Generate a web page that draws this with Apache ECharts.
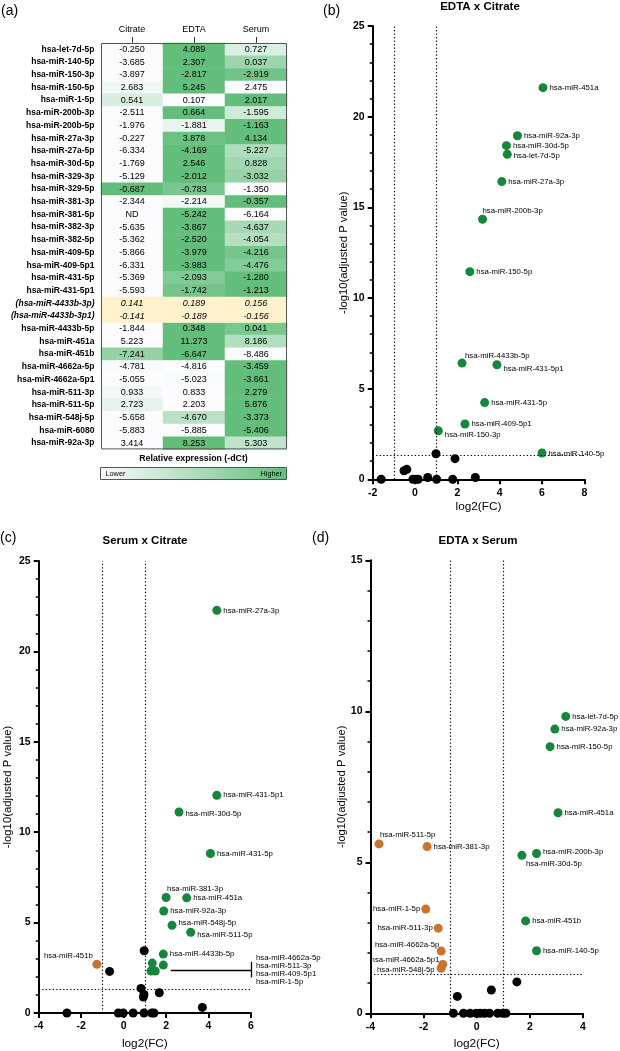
<!DOCTYPE html>
<html>
<head>
<meta charset="utf-8">
<script src="https://cdn.jsdelivr.net/npm/echarts@6/dist/echarts.min.js"></script>
<style>
html,body{margin:0;padding:0;background:#fff;}
#main{width:620px;height:1051px;}
</style>
</head>
<body>
<div id="main"></div>
<script>
// ---------- (a) heatmap data ----------
const heatCols = ['Citrate', 'EDTA', 'Serum'];
const heatRows = ['hsa-let-7d-5p','hsa-miR-140-5p','hsa-miR-150-3p','hsa-miR-150-5p','hsa-miR-1-5p','hsa-miR-200b-3p','hsa-miR-200b-5p','hsa-miR-27a-3p','hsa-miR-27a-5p','hsa-miR-30d-5p','hsa-miR-329-3p','hsa-miR-329-5p','hsa-miR-381-3p','hsa-miR-381-5p','hsa-miR-382-3p','hsa-miR-382-5p','hsa-miR-409-5p','hsa-miR-409-5p1','hsa-miR-431-5p','hsa-miR-431-5p1','(hsa-miR-4433b-3p)','(hsa-miR-4433b-3p1)','hsa-miR-4433b-5p','hsa-miR-451a','hsa-miR-451b','hsa-miR-4662a-5p','hsa-miR-4662a-5p1','hsa-miR-511-3p','hsa-miR-511-5p','hsa-miR-548j-5p','hsa-miR-6080','hsa-miR-92a-3p'];
const citrate = [-0.250,-3.685,-3.897,2.683,0.541,-2.511,-1.976,-0.227,-6.334,-1.769,-5.129,-0.687,-2.344,null,-5.635,-5.362,-5.866,-6.331,-5.369,-5.593,0.141,-0.141,-1.844,5.223,-7.241,-4.781,-5.055,0.933,2.723,-5.658,-5.883,3.414];
const edta = [4.089,2.307,-2.817,5.245,0.107,0.664,-1.881,3.878,-4.169,2.546,-2.012,-0.783,-2.214,-5.242,-3.867,-2.520,-3.979,-3.983,-2.093,-1.742,0.189,-0.189,0.348,11.273,-6.647,-4.816,-5.023,0.833,2.203,-4.670,-5.885,8.253];
const serum = [0.727,0.037,-2.919,2.475,2.017,-1.595,-1.163,4.134,-5.227,0.828,-3.032,-1.350,-0.357,-6.164,-4.637,-4.054,-4.216,-4.476,-1.280,-1.213,0.156,-0.156,0.041,8.186,-8.486,-3.459,-3.661,2.279,5.876,-3.373,-5.406,5.303];
const highlightRows = ['(hsa-miR-4433b-3p)','(hsa-miR-4433b-3p1)'];

// ---------- (b) EDTA x Citrate ----------
const bGreenNames = ['hsa-miR-451a','hsa-miR-92a-3p','hsa-miR-30d-5p','hsa-let-7d-5p','hsa-miR-27a-3p','hsa-miR-200b-3p','hsa-miR-150-5p','hsa-miR-4433b-5p','hsa-miR-431-5p1','hsa-miR-431-5p','hsa-miR-409-5p1','hsa-miR-150-3p','hsa-miR-140-5p'];
const bGreenX = [6.05,4.84,4.32,4.36,4.10,3.19,2.59,2.22,3.87,3.29,2.36,1.10,6.00];
const bGreenY = [21.6,18.95,18.4,17.92,16.42,14.34,11.45,6.41,6.32,4.23,3.05,2.68,1.45];
const bBlackX = [0.99,1.89,-0.52,-0.39,-1.60,-0.10,0.05,0.15,0.60,1.02,1.78,2.85];
const bBlackY = [1.41,1.14,0.47,0.55,0,0,0,0,0.10,0,0,0.10];

// ---------- (c) Serum x Citrate ----------
const cGreenNames = ['hsa-miR-27a-3p','hsa-miR-431-5p1','hsa-miR-30d-5p','hsa-miR-431-5p','hsa-miR-381-3p','hsa-miR-451a','hsa-miR-92a-3p','hsa-miR-548j-5p','hsa-miR-511-5p','hsa-miR-4433b-5p','hsa-miR-4662a-5p','hsa-miR-511-3p','hsa-miR-409-5p1','hsa-miR-1-5p'];
const cGreenX = [4.39,4.39,2.61,4.09,2.00,2.97,1.89,2.28,3.16,1.87,1.35,1.87,1.29,1.49];
const cGreenY = [22.27,12.04,11.12,8.82,6.39,6.37,5.64,4.85,4.46,3.26,2.76,2.65,2.32,2.32];
const cOrangeNames = ['hsa-miR-451b'];
const cOrangeX = [-1.26];
const cOrangeY = [2.69];
const cBlackX = [0.97,-0.66,0.82,0.96,0.93,1.68,3.71,-2.67,-0.25,-0.02,0.45,0.96,1.32,1.43];
const cBlackY = [3.44,2.30,1.36,1.03,0.88,1.12,0.31,0,0,0,0,0,0,0];
const cBracketNames = ['hsa-miR-4662a-5p','hsa-miR-511-3p','hsa-miR-409-5p1','hsa-miR-1-5p'];

// ---------- (d) EDTA x Serum ----------
const dGreenNames = ['hsa-let-7d-5p','hsa-miR-92a-3p','hsa-miR-150-5p','hsa-miR-451a','hsa-miR-200b-3p','hsa-miR-30d-5p','hsa-miR-451b','hsa-miR-140-5p'];
const dGreenX = [3.35,2.94,2.76,3.06,2.25,1.70,1.84,2.25];
const dGreenY = [9.83,9.41,8.83,6.64,5.29,5.23,3.06,2.07];
const dOrangeNames = ['hsa-miR-511-5p','hsa-miR-381-3p','hsa-miR-1-5p','hsa-miR-511-3p','hsa-miR-4662a-5p','hsa-miR-4662a-5p1','hsa-miR-548j-5p'];
const dOrangeX = [-3.68,-1.87,-1.92,-1.45,-1.34,-1.28,-1.34];
const dOrangeY = [5.61,5.52,3.45,2.82,2.06,1.62,1.49];
const dBlackX = [1.51,0.55,-0.73,-0.88,-0.50,-0.25,-0.02,0.13,0.29,0.48,0.79,0.98,1.10];
const dBlackY = [1.04,0.77,0.56,0,0,0,0,0,0,0,0,0,0];

// thresholds
const fcCut = [-1, 1];
const pCut = 1.3;

// ---------- styles ----------
const FONT = "'Liberation Sans', Arial, Helvetica, sans-serif";
const GREEN = '#15873D', ORANGE = '#C8732F', BLACK = '#000000';
const SYM = 9;
const labelStyle = {
  b: {
    'hsa-miR-200b-3p': {position:'top', align:'left', offset:[0,2]},
    'hsa-miR-4433b-5p': {position:'top', align:'left', offset:[3,3.5]},
    'hsa-miR-431-5p1': {offset:[0,4]},
    'hsa-miR-150-3p': {offset:[0,4]},
    'hsa-miR-140-5p': {offset:[0,1]},
    'hsa-let-7d-5p': {offset:[0,1]}
  },
  c: {
    'hsa-miR-381-3p': {position:'top', align:'left', offset:[1,2]},
    'hsa-miR-451b': {position:'top', align:'right', offset:[-4,1.5]},
    'hsa-miR-30d-5p': {offset:[0,2]},
    'hsa-miR-548j-5p': {offset:[0,-2]},
    'hsa-miR-511-5p': {offset:[0,2]},
    'hsa-miR-4662a-5p': {show:false},
    'hsa-miR-511-3p': {show:false},
    'hsa-miR-409-5p1': {show:false},
    'hsa-miR-1-5p': {show:false}
  },
  d: {
    'hsa-miR-511-5p': {position:'top', align:'left', offset:[1,1]},
    'hsa-miR-30d-5p': {position:'bottom', align:'left', offset:[4,-2]},
    'hsa-miR-200b-3p': {offset:[0,-2]},
    'hsa-miR-1-5p': {position:'left', offset:[1,0]},
    'hsa-miR-511-3p': {position:'left', offset:[1,0]},
    'hsa-miR-4662a-5p': {position:'left', offset:[4.8,-6]},
    'hsa-miR-4662a-5p1': {position:'left', offset:[3.2,-5]},
    'hsa-miR-548j-5p': {position:'left', offset:[0,1.7]}
  }
};

// ---------- heatmap data (row-normalised colour) ----------
const colValues = [citrate, edta, serum];
const heatNormal = [], heatCream = [];
heatRows.forEach((r, ri) => {
  const vals = colValues.map(c => c[ri]);
  const nums = vals.filter(v => v !== null);
  const mn = Math.min(...nums), mx = Math.max(...nums);
  vals.forEach((v, ci) => {
    const t = v === null ? 'ND' : v.toFixed(3);
    const norm = v === null ? 0 : (mx > mn ? (v - mn) / (mx - mn) : 0);
    if (highlightRows.includes(r)) heatCream.push({value:[ci, ri, 0], t});
    else heatNormal.push({value:[ci, ri, norm], t});
  });
});

// ---------- layout ----------
const G = {
  a: {left:101, top:43, width:186, height:406.4},
  b: {left:372.7, top:26, width:211.6, height:453.3},
  c: {left:38.7, top:561, width:212.3, height:453},
  d: {left:370.5, top:560.3, width:212.5, height:453}
};

function pts(names, xs, ys, panel) {
  return xs.map((x, i) => {
    const item = {value:[x, ys[i]]};
    if (names) {
      item.name = names[i];
      const ls = (labelStyle[panel] || {})[names[i]];
      if (ls) item.label = Object.assign({}, ls);
    }
    return item;
  });
}

function xAx(grid, min, max, gap) {
  return {
    type:'value', gridIndex:grid, min, max, interval:2,
    axisLine:{onZero:false, lineStyle:{color:'#000', width:2}},
    axisTick:{length:5, lineStyle:{color:'#000', width:2}},
    axisLabel:{color:'#000', fontWeight:'bold', fontSize:10.5, margin:8, fontFamily:FONT},
    splitLine:{show:false},
    name:'log2(FC)', nameLocation:'middle', nameGap:gap,
    nameTextStyle:{color:'#000', fontSize:11.8, fontFamily:FONT}
  };
}
function yAx(grid, max, gap) {
  return {
    type:'value', gridIndex:grid, min:0, max, interval:5,
    axisLine:{onZero:false, lineStyle:{color:'#000', width:2}},
    axisTick:{length:5, lineStyle:{color:'#000', width:2}},
    minorTick:{show:true, splitNumber:5, length:3, lineStyle:{color:'#000', width:1.5}},
    axisLabel:{color:'#000', fontWeight:'bold', fontSize:10.5, margin:8, fontFamily:FONT},
    splitLine:{show:false}, minorSplitLine:{show:false},
    name:'-log10(adjusted P value)', nameLocation:'middle', nameGap:gap,
    nameTextStyle:{color:'#000', fontSize:11.3, fontFamily:FONT}
  };
}
const dotted = {
  silent:true, symbol:'none', animation:false,
  label:{show:false},
  lineStyle:{color:'#000', type:[1.3,2.2], width:1.2},
  data:[{xAxis:fcCut[0]}, {xAxis:fcCut[1]}, {yAxis:pCut}]
};
function scatter(grid, data, color, withLabel, extra) {
  return Object.assign({
    type:'scatter', xAxisIndex:grid, yAxisIndex:grid, data,
    symbolSize:SYM, itemStyle:{color, opacity:1}, animation:false, clip:false,
    label:{show:withLabel, position:'right', distance:2, formatter:'{b}',
      fontSize:7.8, color:'#000', fontFamily:FONT},
    emphasis:{disabled:true}, z:3
  }, extra || {});
}

const textEl = (id, text, x, y, size, weight, align, extra) => Object.assign({
  type:'text', id, x, y, z:10,
  style:{text, fill:'#000', fontSize:size, fontWeight:weight||'normal', fontFamily:FONT,
    align:align||'left', verticalAlign:'middle', textAlign:align||'left', textVerticalAlign:'middle'}
}, extra || {});

const option = {
  animation:false,
  backgroundColor:'#fff',
  grid:[
    Object.assign({}, G.a),
    Object.assign({}, G.b),
    Object.assign({}, G.c),
    Object.assign({}, G.d)
  ],
  xAxis:[
    {type:'category', gridIndex:0, data:heatCols, position:'top',
     axisLine:{show:false}, axisTick:{show:true, alignWithLabel:true, length:6, lineStyle:{color:'#333'}},
     axisLabel:{color:'#000', fontSize:9, margin:9, fontFamily:FONT}, splitLine:{show:false}},
    xAx(1, -2, 8, 21),
    xAx(2, -4, 6, 25),
    xAx(3, -4, 4, 24)
  ],
  yAxis:[
    {type:'category', gridIndex:0, data:heatRows, inverse:true,
     axisLine:{show:false}, axisTick:{show:false}, splitLine:{show:false},
     axisLabel:{interval:0, color:'#000', fontSize:8.5, fontWeight:'bold', margin:6.5, fontFamily:FONT,
       formatter: v => highlightRows.includes(v) ? '{i|' + v + '}' : v,
       rich:{i:{fontStyle:'italic', fontWeight:'bold', fontSize:8.5, color:'#000', fontFamily:FONT}}}},
    yAx(1, 25, 23.5),
    yAx(2, 25, 25.5),
    yAx(3, 15, 21.5)
  ],
  visualMap:[{type:'continuous', show:false, min:0, max:1, dimension:2, seriesIndex:0,
    inRange:{color:['#FCFCFF', '#63BE7B']}}],
  series:[
    {type:'heatmap', xAxisIndex:0, yAxisIndex:0, data:heatNormal, animation:false,
     itemStyle:{borderWidth:0},
     label:{show:true, formatter:p => p.data.t, color:'#000', fontSize:9, fontFamily:FONT},
     emphasis:{disabled:true}},
    {type:'heatmap', xAxisIndex:0, yAxisIndex:0, data:heatCream, animation:false,
     itemStyle:{color:'#FFF2CC', borderWidth:0},
     label:{show:true, formatter:p => p.data.t, color:'#000', fontSize:9, fontStyle:'italic', fontFamily:FONT},
     emphasis:{disabled:true}},
    // (b)
    scatter(1, pts(null, bBlackX, bBlackY), BLACK, false, {markLine:dotted, z:2}),
    scatter(1, pts(bGreenNames, bGreenX, bGreenY, 'b'), GREEN, true),
    // (c)
    scatter(2, pts(null, cBlackX, cBlackY), BLACK, false, {markLine:dotted, z:2}),
    scatter(2, pts(cGreenNames, cGreenX, cGreenY, 'c'), GREEN, true),
    scatter(2, pts(cOrangeNames, cOrangeX, cOrangeY, 'c'), ORANGE, true),
    {type:'line', xAxisIndex:2, yAxisIndex:2, data:[], animation:false, silent:true,
     markLine:{silent:true, symbol:'none', animation:false, label:{show:false},
       lineStyle:{color:'#000', type:'solid', width:1.3},
       data:[[{coord:[2.22, 2.38]}, {coord:[6, 2.38]}], [{coord:[6, 1.97]}, {coord:[6, 2.83]}]]}},
    // (d)
    scatter(3, pts(null, dBlackX, dBlackY), BLACK, false, {markLine:dotted, z:2}),
    scatter(3, pts(dGreenNames, dGreenX, dGreenY, 'd'), GREEN, true),
    scatter(3, pts(dOrangeNames, dOrangeX, dOrangeY, 'd'), ORANGE, true)
  ],
  graphic:[
    {type:'rect', id:'tblBorder', z:20, silent:true,
     shape:{x:G.a.left + 0.5, y:G.a.top + 0.5, width:G.a.width - 1, height:G.a.height - 1},
     style:{fill:'none', stroke:'#555', lineWidth:1}},
    textEl('legTitle', 'Relative expression (-dCt)', 193.5, 459, 8.8, 'bold', 'center'),
    {type:'rect', id:'legBar', z:10, silent:true,
     shape:{x:100.5, y:467.5, width:186, height:12},
     style:{stroke:'#555', lineWidth:1,
       fill:new echarts.graphic.LinearGradient(0, 0, 1, 0, [{offset:0, color:'#FCFCFF'}, {offset:1, color:'#63BE7B'}])}},
    textEl('legLow', 'Lower', 105.5, 473.5, 7.3, 'normal', 'left', {z:11}),
    textEl('legHigh', 'Higher', 282, 473.5, 7.3, 'normal', 'right', {z:11}),
    textEl('pa', '(a)', 1, 11, 14, 'normal', 'left'),
    textEl('pb', '(b)', 323, 11, 14, 'normal', 'left'),
    textEl('pc', '(c)', 0, 538, 14, 'normal', 'left'),
    textEl('pd', '(d)', 312, 538, 14, 'normal', 'left'),
    textEl('tb', 'EDTA x Citrate', 480, 7, 11.5, 'bold', 'center'),
    textEl('tc', 'Serum x Citrate', 145, 541, 11.5, 'bold', 'center'),
    textEl('td', 'EDTA x Serum', 478, 541, 11.5, 'bold', 'center')
  ]
};

const chart = echarts.init(document.getElementById('main'), null, {renderer:'canvas'});
chart.setOption(option);

// bracket labels for the (c) cluster, placed next to the bracket end
const br = chart.convertToPixel({gridIndex:2}, [6, 2.38]);
const brOff = [-12, -4.3, 3.7, 11.7];
chart.setOption({
  graphic: cBracketNames.map((n, i) => textEl('br' + i, n, br[0] + 5, br[1] + brOff[i], 7.8, 'normal', 'left'))
});
</script>
</body>
</html>
